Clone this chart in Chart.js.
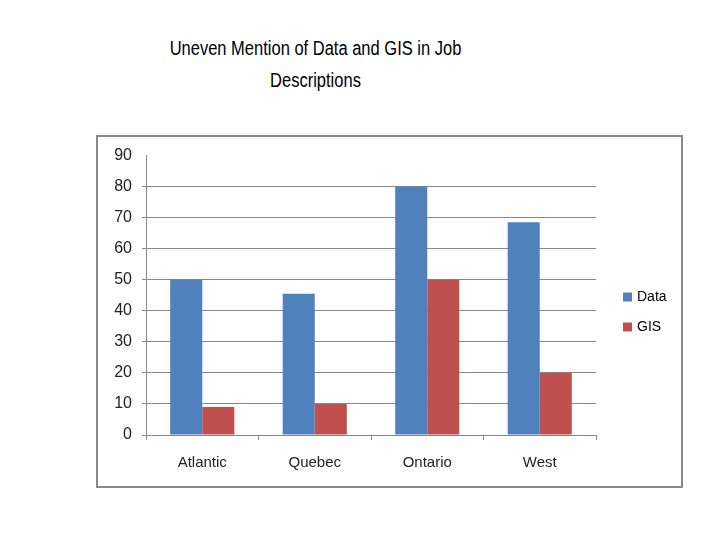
<!DOCTYPE html>
<html lang="en">
<head>
    <meta charset="UTF-8" />
    <title>Uneven Mention of Data and GIS in Job Descriptions</title>
    <style>
        body {
            margin: 0;
            background: #fff;
            width: 720px;
            height: 540px;
            position: relative;
            overflow: hidden;
        }
        #title {
            position: absolute;
            left: 0;
            top: 32px;
            width: 631px;
            text-align: center;
            font-family: "Liberation Sans", Arial, sans-serif;
            font-size: 20px;
            line-height: 32px;
            color: #000;
            transform: scaleX(0.825);
            transform-origin: 315.5px 0;
        }
        #chart-box {
            position: absolute;
            left: 96px;
            top: 135px;
            width: 587px;
            height: 353px;
            box-sizing: border-box;
            border: 2px solid #898989;
        }
        #chart-box canvas {
            position: absolute;
            left: -1px;
            top: -1px;
        }
    </style>
    <script src="https://cdn.jsdelivr.net/npm/chart.js"></script>
</head>
<body>
<div id="title">Uneven Mention of Data and GIS in Job<br>Descriptions</div>
<div id="chart-box">
    <canvas id="jobChart" width="585" height="351"></canvas>
</div>

<script>
  const categories = ["Atlantic", "Quebec", "Ontario", "West"];
  const dataValues = [50, 45.5, 80, 68.5];
  const gisValues = [9, 10, 50, 20];
  const seriesNames = ["Data", "GIS"];
  const seriesColors = ["#4f81bd", "#c0504d"];

  const gridGray = "#878787";
  const fontFamily = "'Liberation Sans', Arial, sans-serif";

  // legend drawn by hand so it can sit apart from the plot like the original
  const sideLegend = {
    id: "sideLegend",
    afterDraw(chart) {
      const ctx = chart.ctx;
      ctx.save();
      ctx.font = "14px " + fontFamily;
      ctx.textBaseline = "middle";
      chart.data.datasets.forEach((ds, i) => {
        const y = 161 + i * 30;
        ctx.fillStyle = ds.backgroundColor;
        ctx.fillRect(526, y - 4.5, 9, 9);
        ctx.fillStyle = "#000";
        ctx.fillText(ds.label, 540, y);
      });
      ctx.restore();
    },
  };

  const ctx = document.getElementById("jobChart").getContext("2d");
  new Chart(ctx, {
    type: "bar",
    data: {
      labels: categories,
      datasets: [
        {
          label: seriesNames[0],
          data: dataValues,
          backgroundColor: seriesColors[0],
          categoryPercentage: 0.57,
          barPercentage: 1,
        },
        {
          label: seriesNames[1],
          data: gisValues,
          backgroundColor: seriesColors[1],
          categoryPercentage: 0.57,
          barPercentage: 1,
        },
      ],
    },
    options: {
      responsive: false,
      animation: false,
      layout: {
        padding: { left: 0, right: 86, top: 19, bottom: 0 },
      },
      scales: {
        x: {
          afterFit: (scale) => { scale.height = 52; },
          grid: {
            offset: true,
            drawOnChartArea: false,
            color: gridGray,
            tickLength: 5,
          },
          border: { color: gridGray },
          ticks: { color: "#222", font: { family: fontFamily, size: 15 }, padding: 14 },
        },
        y: {
          min: 0,
          max: 90,
          afterFit: (scale) => { scale.width = 49; },
          grid: {
            color: (c) => (c.tick && c.tick.value === 90 ? "rgba(0,0,0,0)" : gridGray),
            tickLength: 4,
          },
          border: { color: gridGray },
          ticks: { stepSize: 10, color: "#222", font: { family: fontFamily, size: 16 }, padding: 10 },
        },
      },
      plugins: {
        legend: { display: false },
        tooltip: { enabled: false },
      },
    },
    plugins: [sideLegend],
  });
</script>
</body>
</html>
